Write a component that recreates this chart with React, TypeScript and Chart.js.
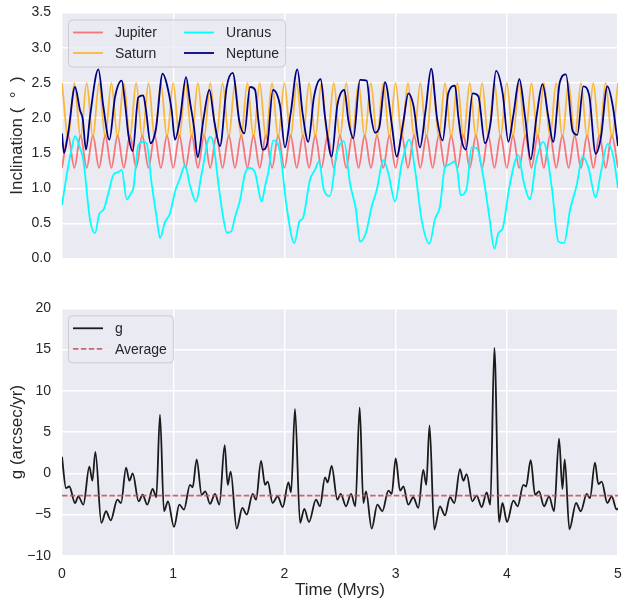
import React, { useEffect, useRef } from "react";
import { Chart, ChartConfiguration, Plugin, registerables } from "chart.js";

Chart.register(...registerables);

const FONT = '"Liberation Sans", Arial, Helvetica, sans-serif';
const INK = "#262626";
const PANEL = "#EAEAF2";

// Jupiter / Saturn: turning points of their regular exchange cycle (Myr)
const jsTimes = [
  0, 0.056, 0.111, 0.167, 0.222, 0.278, 0.333, 0.389, 0.444, 0.5, 0.556, 0.611, 0.667, 0.722, 0.778, 0.833, 0.889, 0.944,
  1, 1.056, 1.111, 1.167, 1.222, 1.278, 1.333, 1.389, 1.444, 1.5, 1.556, 1.611, 1.667, 1.722, 1.778, 1.833, 1.889, 1.944,
  2, 2.056, 2.111, 2.167, 2.222, 2.278, 2.333, 2.389, 2.444, 2.5, 2.556, 2.611, 2.667, 2.722, 2.778, 2.833, 2.889, 2.944,
  3, 3.056, 3.111, 3.167, 3.222, 3.278, 3.333, 3.389, 3.444, 3.5, 3.556, 3.611, 3.667, 3.722, 3.778, 3.833, 3.889, 3.944,
  4, 4.056, 4.111, 4.167, 4.222, 4.278, 4.333, 4.389, 4.444, 4.5, 4.556, 4.611, 4.667, 4.722, 4.778, 4.833, 4.889, 4.944,
  5,
];
const jupiterInc = [
  1.29, 1.75, 1.29, 1.75, 1.29, 1.75, 1.29, 1.75, 1.29, 1.75, 1.29, 1.75, 1.29, 1.75, 1.29, 1.75, 1.29, 1.75,
  1.29, 1.75, 1.29, 1.75, 1.29, 1.75, 1.29, 1.75, 1.29, 1.75, 1.29, 1.75, 1.29, 1.75, 1.29, 1.75, 1.29, 1.75,
  1.29, 1.75, 1.29, 1.75, 1.29, 1.75, 1.29, 1.75, 1.29, 1.75, 1.29, 1.75, 1.29, 1.75, 1.29, 1.75, 1.29, 1.75,
  1.29, 1.75, 1.29, 1.75, 1.29, 1.75, 1.29, 1.75, 1.29, 1.75, 1.29, 1.75, 1.29, 1.75, 1.29, 1.75, 1.29, 1.75,
  1.29, 1.75, 1.29, 1.75, 1.29, 1.75, 1.29, 1.75, 1.29, 1.75, 1.29, 1.75, 1.29, 1.75, 1.29, 1.75, 1.29, 1.75,
  1.29,
];
const saturnInc = [
  2.5, 1.72, 2.5, 1.72, 2.5, 1.72, 2.5, 1.72, 2.5, 1.72, 2.5, 1.72, 2.5, 1.72, 2.5, 1.72, 2.5, 1.72,
  2.5, 1.72, 2.5, 1.72, 2.5, 1.72, 2.5, 1.72, 2.5, 1.72, 2.5, 1.72, 2.5, 1.72, 2.5, 1.72, 2.5, 1.72,
  2.5, 1.72, 2.5, 1.72, 2.5, 1.72, 2.5, 1.72, 2.5, 1.72, 2.5, 1.72, 2.5, 1.72, 2.5, 1.72, 2.5, 1.72,
  2.5, 1.72, 2.5, 1.72, 2.5, 1.72, 2.5, 1.72, 2.5, 1.72, 2.5, 1.72, 2.5, 1.72, 2.5, 1.72, 2.5, 1.72,
  2.5, 1.72, 2.5, 1.72, 2.5, 1.72, 2.5, 1.72, 2.5, 1.72, 2.5, 1.72, 2.5, 1.72, 2.5, 1.72, 2.5, 1.72,
  2.5,
];

// Uranus
const uranusT = [
  0, 0.045, 0.09, 0.117, 0.162, 0.192, 0.252, 0.297, 0.336, 0.372, 0.417, 0.462, 0.507, 0.537, 0.582, 0.62, 0.642,
  0.686, 0.731, 0.761, 0.806, 0.851, 0.881, 0.926, 0.971, 1.016, 1.061, 1.106, 1.151, 1.205, 1.256, 1.331, 1.361,
  1.406, 1.451, 1.481, 1.52, 1.556, 1.601, 1.646, 1.685, 1.736, 1.796, 1.826, 1.856, 1.9, 1.96, 2.02, 2.089, 2.134,
  2.17, 2.23, 2.275, 2.311, 2.356, 2.41, 2.47, 2.536, 2.59, 2.644, 2.68, 2.734, 2.785, 2.83, 2.89, 2.935, 2.995,
  3.055, 3.124, 3.175, 3.234, 3.304, 3.354, 3.399, 3.444, 3.489, 3.525, 3.555, 3.585, 3.639, 3.684, 3.729, 3.789,
  3.843, 3.888, 3.924, 3.963, 4.023, 4.104, 4.148, 4.208, 4.263, 4.329, 4.404, 4.464, 4.515, 4.569, 4.628, 4.682,
  4.733, 4.799, 4.844, 4.907, 4.958, 5,
];
const uranusInc = [
  0.76, 1.21, 1.59, 1.74, 1.57, 1.4, 0.55, 0.36, 0.64, 0.69, 0.93, 1.19, 1.23, 1.26, 0.84, 0.93, 1.0,
  1.61, 1.66, 1.64, 1.07, 0.59, 0.29, 0.52, 0.64, 0.95, 1.14, 1.33, 1.04, 0.81, 1.21, 1.73, 1.64,
  1.07, 0.57, 0.37, 0.38, 0.59, 0.83, 1.21, 1.29, 1.22, 0.81, 1.03, 1.23, 1.68, 1.52, 0.74, 0.22, 0.52,
  0.59, 1.12, 1.26, 1.38, 0.97, 0.89, 1.49, 1.67, 1.07, 0.69, 0.24, 0.37, 0.74, 0.97, 1.4, 1.21, 0.81,
  1.35, 1.69, 1.26, 0.55, 0.21, 0.56, 0.74, 1.3, 1.34, 1.38, 1.26, 0.9, 1.0, 1.58, 1.57, 1.16,
  0.59, 0.14, 0.36, 0.43, 1.02, 1.47, 1.12, 0.84, 1.38, 1.66, 1.02, 0.24, 0.22, 0.69, 1.04, 1.45,
  1.3, 0.87, 1.21, 1.63, 1.45, 1.0,
];

// Neptune
const neptuneT = [
  0, 0.018, 0.057, 0.117, 0.162, 0.186, 0.216, 0.252, 0.327, 0.372, 0.426, 0.477, 0.537, 0.567, 0.597, 0.636,
  0.686, 0.731, 0.755, 0.797, 0.845, 0.905, 0.941, 0.986, 1.016, 1.061, 1.115, 1.151, 1.187, 1.22, 1.271, 1.325,
  1.37, 1.421, 1.481, 1.535, 1.595, 1.64, 1.691, 1.736, 1.766, 1.805, 1.847, 1.897, 1.96, 2.005, 2.056, 2.116,
  2.164, 2.215, 2.266, 2.326, 2.365, 2.425, 2.476, 2.539, 2.575, 2.62, 2.68, 2.74, 2.776, 2.815, 2.854, 2.905,
  2.965, 3.009, 3.07, 3.115, 3.16, 3.219, 3.27, 3.32, 3.375, 3.423, 3.474, 3.534, 3.564, 3.594, 3.633, 3.693,
  3.744, 3.804, 3.855, 3.903, 3.963, 4.014, 4.059, 4.113, 4.164, 4.215, 4.269, 4.321, 4.373, 4.417, 4.477, 4.532,
  4.591, 4.634, 4.688, 4.742, 4.799, 4.847, 4.904, 4.952, 5,
];
const neptuneInc = [
  1.78, 1.5, 1.8, 2.44, 2.11, 1.99, 1.55, 2.02, 2.69, 2.16, 1.69, 2.3, 2.53, 2.21, 1.76, 1.53,
  2.29, 2.32, 2.11, 1.64, 1.85, 2.63, 2.49, 2.11, 1.69, 1.98, 2.58, 2.23, 1.87, 1.44, 1.97, 2.4,
  1.95, 1.6, 2.44, 2.64, 1.95, 1.78, 2.44, 2.4, 1.97, 1.55, 1.64, 2.4, 2.18, 1.58, 2.06, 2.69,
  2.06, 1.66, 2.3, 2.55, 2.02, 1.45, 2.18, 2.4, 1.97, 1.71, 2.54, 2.53, 2.06, 1.79, 1.87, 2.51,
  1.92, 1.45, 1.95, 2.35, 2.18, 1.58, 2.11, 2.7, 1.97, 1.68, 2.35, 2.46, 2.02, 1.68, 1.55, 2.35,
  2.31, 1.64, 1.94, 2.67, 2.35, 1.66, 2.04, 2.55, 2.02, 1.41, 2.04, 2.48, 2.02, 1.66, 2.51, 2.62,
  1.82, 1.76, 2.45, 2.31, 1.49, 1.73, 2.45, 2.18, 1.6,
];

// g frequency (arcsec/yr)
const gT = [
  0, 0.036, 0.066, 0.117, 0.147, 0.192, 0.246, 0.273, 0.3, 0.354, 0.396, 0.438, 0.498, 0.531, 0.576, 0.606, 0.636,
  0.689, 0.725, 0.767, 0.815, 0.848, 0.881, 0.917, 0.953, 1.007, 1.055, 1.097, 1.151, 1.175, 1.211, 1.256, 1.289,
  1.331, 1.376, 1.415, 1.463, 1.49, 1.517, 1.571, 1.622, 1.661, 1.715, 1.745, 1.79, 1.826, 1.85, 1.894, 1.939,
  1.985, 2.036, 2.06, 2.095, 2.141, 2.179, 2.221, 2.284, 2.32, 2.365, 2.389, 2.425, 2.476, 2.506, 2.554, 2.599,
  2.638, 2.677, 2.71, 2.734, 2.785, 2.836, 2.881, 2.935, 2.965, 3.001, 3.04, 3.07, 3.114, 3.159, 3.204, 3.249,
  3.276, 3.305, 3.348, 3.399, 3.444, 3.489, 3.528, 3.579, 3.609, 3.639, 3.69, 3.729, 3.774, 3.819, 3.852, 3.888,
  3.931, 3.961, 4.002, 4.059, 4.097, 4.149, 4.173, 4.215, 4.254, 4.29, 4.335, 4.38, 4.425, 4.47, 4.5, 4.521,
  4.563, 4.623, 4.665, 4.719, 4.748, 4.793, 4.823, 4.853, 4.904, 4.943, 4.988, 5,
];
const gVal = [
  2.0, -1.8, -1.6, -3.6, -2.8, -3.8, 0.8, -0.9, 2.6, -6.0, -4.6, -5.7, -3.2, -3.6, 0.7, -0.9, 0.0,
  -3.4, -2.6, -3.8, -1.9, -2.9, 7.1, -4.6, -3.4, -6.5, -3.8, -4.4, -1.4, -1.7, 1.7, -2.6, -2.2,
  -3.7, -2.5, -3.8, 3.4, -1.4, 0.2, -6.7, -4.2, -5.0, -2.5, -3.2, 1.5, -1.4, -1.0, -3.6, -2.8,
  -4.1, -1.1, -2.3, 7.8, -6.0, -4.3, -5.9, -3.2, -4.0, -0.5, -1.1, 0.9, -3.2, -2.5, -4.0, -2.5,
  -4.0, 8.0, -3.6, -2.2, -6.7, -3.8, -4.6, -2.1, -2.5, 1.8, -2.1, -1.6, -3.8, -2.9, -4.2, 0.4,
  -1.4, 5.8, -6.8, -4.0, -5.1, -2.9, -3.6, 0.5, -0.9, -0.1, -3.4, -2.7, -4.1, -2.3, -3.8, 15.2,
  -5.9, -3.6, -5.9, -3.3, -4.0, -1.4, -1.6, 1.6, -2.6, -2.2, -4.0, -2.8, -4.6, 4.2, -1.9, 1.7,
  -6.8, -3.6, -4.6, -2.5, -3.0, 1.3, -1.3, -1.0, -3.6, -2.8, -4.4, -4.2,
];
const gAverage = -2.7;

const inclinationTicks = [0, 0.5, 1, 1.5, 2, 2.5, 3, 3.5];
const gTicks = [-10, -5, 0, 5, 10, 15, 20];
const timeTicks = [0, 1, 2, 3, 4, 5];

const pts = (ts: number[], vs: number[]) => ts.map((x, i) => ({ x, y: vs[i] }));

type LegendItem = { label: string; color: string; dash?: number[] };

const panelBackground: Plugin = {
  id: "panelBackground",
  beforeDraw(chart) {
    const { ctx, chartArea: a } = chart;
    ctx.save();
    ctx.fillStyle = PANEL;
    ctx.fillRect(a.left, a.top, a.right - a.left, a.bottom - a.top);
    ctx.restore();
  },
};

// matplotlib-style framed legend inside the upper-left of the axes
const boxLegend: Plugin = {
  id: "boxLegend",
  afterDraw(chart, _args, opts: any) {
    const cols: LegendItem[][] = opts.columns || [];
    if (!cols.length) return;
    const { ctx, chartArea } = chart;
    ctx.save();
    ctx.font = `14px ${FONT}`;
    const rowH = 20.5;
    const rows = Math.max(...cols.map((c) => c.length));
    const widths = cols.map((c) => 42 + Math.max(...c.map((it) => ctx.measureText(it.label).width)));
    const x0 = chartArea.left + 6;
    const y0 = chartArea.top + 7;
    const w = 5 + widths.reduce((a, b) => a + b, 0) + 27 * (cols.length - 1) + 6;
    const h = 13 + rowH * (rows - 1) + 13.5;

    ctx.beginPath();
    ctx.roundRect(x0 + 0.5, y0 + 0.5, w, h, 4);
    ctx.fillStyle = "rgba(234,234,242,0.8)";
    ctx.fill();
    ctx.strokeStyle = "#CCCCCC";
    ctx.lineWidth = 1;
    ctx.stroke();

    let cx = x0 + 5;
    cols.forEach((col, ci) => {
      col.forEach((it, r) => {
        const y = y0 + 13 + r * rowH;
        ctx.beginPath();
        ctx.setLineDash(it.dash || []);
        ctx.strokeStyle = it.color;
        ctx.lineWidth = 1.8;
        ctx.moveTo(cx, y);
        ctx.lineTo(cx + 30, y);
        ctx.stroke();
        ctx.setLineDash([]);
        ctx.fillStyle = INK;
        ctx.textBaseline = "middle";
        ctx.textAlign = "left";
        ctx.fillText(it.label, cx + 42, y + 1);
      });
      cx += widths[ci] + 27;
    });
    ctx.restore();
  },
};

// keep Chart.js from pushing the plot area in for edge tick labels
const noEdgePadding = (s: any) => {
  s.paddingTop = 0;
  s.paddingBottom = 0;
  s.paddingLeft = 0;
  s.paddingRight = 0;
};

const grid = { color: "#FFFFFF", lineWidth: 1.4, drawTicks: false };
const tickFont = { family: FONT, size: 14 };
const titleFont = { family: FONT, size: 17 };

const line = { pointRadius: 0, borderWidth: 1.8, fill: false, cubicInterpolationMode: "monotone" as const };

const JUPITER = "rgba(255,0,0,0.5)";
const SATURN = "rgba(255,165,0,0.75)";
const URANUS = "#00FFFF";
const NEPTUNE = "#000080";
const G_COLOR = "#1A1A1A";
const AVG_COLOR = "rgba(196,78,82,0.85)";
const AVG_DASH = [5.5, 2.4];

function topConfig(): ChartConfiguration<"line"> {
  return {
    type: "line",
    data: {
      datasets: [
        { ...line, label: "Jupiter", data: pts(jsTimes, jupiterInc), borderColor: JUPITER, order: 4 },
        { ...line, label: "Saturn", data: pts(jsTimes, saturnInc), borderColor: SATURN, order: 3 },
        { ...line, label: "Uranus", data: pts(uranusT, uranusInc), borderColor: URANUS, order: 2 },
        { ...line, label: "Neptune", data: pts(neptuneT, neptuneInc), borderColor: NEPTUNE, order: 1 },
      ],
    },
    options: {
      animation: false,
      responsive: true,
      maintainAspectRatio: false,
      events: [],
      layout: { padding: { top: 12.5, right: 12, left: 0, bottom: 0 } },
      scales: {
        x: {
          type: "linear",
          min: 0,
          max: 5,
          afterBuildTicks: (s) => {
            s.ticks = timeTicks.map((value) => ({ value }));
          },
          ticks: { display: false },
          grid,
          border: { display: false },
          afterFit: (s) => {
            noEdgePadding(s);
            s.height = 13.5;
          },
        },
        y: {
          type: "linear",
          min: 0,
          max: 3.5,
          afterBuildTicks: (s) => {
            s.ticks = inclinationTicks.map((value) => ({ value }));
          },
          ticks: { padding: 11, color: INK, font: tickFont, callback: (v) => Number(v).toFixed(1) },
          title: { display: true, text: "Inclination (  °  )", color: INK, font: titleFont, padding: { top: 7, bottom: 0 } },
          grid,
          border: { display: false },
          afterFit: (s) => {
            noEdgePadding(s);
            s.width = 62;
          },
        },
      },
      plugins: {
        legend: { display: false },
        tooltip: { enabled: false },
        // @ts-ignore custom plugin options
        boxLegend: {
          columns: [
            [
              { label: "Jupiter", color: JUPITER },
              { label: "Saturn", color: SATURN },
            ],
            [
              { label: "Uranus", color: URANUS },
              { label: "Neptune", color: NEPTUNE },
            ],
          ],
        },
      },
    },
    plugins: [panelBackground, boxLegend],
  };
}

function bottomConfig(): ChartConfiguration<"line"> {
  return {
    type: "line",
    data: {
      datasets: [
        { ...line, label: "g", data: pts(gT, gVal), borderColor: G_COLOR, order: 2 },
        {
          ...line,
          label: "Average",
          data: pts([0, 5], [gAverage, gAverage]),
          borderColor: AVG_COLOR,
          borderDash: AVG_DASH,
          order: 1,
        },
      ],
    },
    options: {
      animation: false,
      responsive: true,
      maintainAspectRatio: false,
      events: [],
      layout: { padding: { top: 13.3, right: 12, left: 0, bottom: 0 } },
      scales: {
        x: {
          type: "linear",
          min: 0,
          max: 5,
          afterBuildTicks: (s) => {
            s.ticks = timeTicks.map((value) => ({ value }));
          },
          ticks: { padding: 10, color: INK, font: tickFont, maxRotation: 0, callback: (v) => String(v) },
          title: { display: true, text: "Time (Myrs)", color: INK, font: titleFont, padding: { top: 0, bottom: 4 } },
          grid,
          border: { display: false },
          afterFit: (s) => {
            noEdgePadding(s);
            s.height = 49.2;
          },
        },
        y: {
          type: "linear",
          min: -10,
          max: 20,
          afterBuildTicks: (s) => {
            s.ticks = gTicks.map((value) => ({ value }));
          },
          ticks: {
            padding: 11,
            color: INK,
            font: tickFont,
            callback: (v) => (Number(v) < 0 ? "\u2212" + Math.abs(Number(v)) : String(v)),
          },
          title: { display: true, text: "g (arcsec/yr)", color: INK, font: titleFont, padding: { top: 7, bottom: 0 } },
          grid,
          border: { display: false },
          afterFit: (s) => {
            noEdgePadding(s);
            s.width = 62;
          },
        },
      },
      plugins: {
        legend: { display: false },
        tooltip: { enabled: false },
        // @ts-ignore custom plugin options
        boxLegend: {
          columns: [
            [
              { label: "g", color: G_COLOR },
              { label: "Average", color: AVG_COLOR, dash: AVG_DASH },
            ],
          ],
        },
      },
    },
    plugins: [panelBackground, boxLegend],
  };
}

export default function App() {
  const topRef = useRef<HTMLCanvasElement | null>(null);
  const bottomRef = useRef<HTMLCanvasElement | null>(null);

  useEffect(() => {
    if (!topRef.current || !bottomRef.current) return;
    const top = new Chart(topRef.current, topConfig());
    const bottom = new Chart(bottomRef.current, bottomConfig());
    return () => {
      top.destroy();
      bottom.destroy();
    };
  }, []);

  return (
    <div style={{ position: "absolute", left: 0, top: 0, width: 630, height: 605, background: "#fff" }}>
      <div style={{ position: "absolute", left: 0, top: 0, width: 630, height: 272 }}>
        <canvas ref={topRef} />
      </div>
      <div style={{ position: "absolute", left: 0, top: 295, width: 630, height: 310 }}>
        <canvas ref={bottomRef} />
      </div>
    </div>
  );
}
